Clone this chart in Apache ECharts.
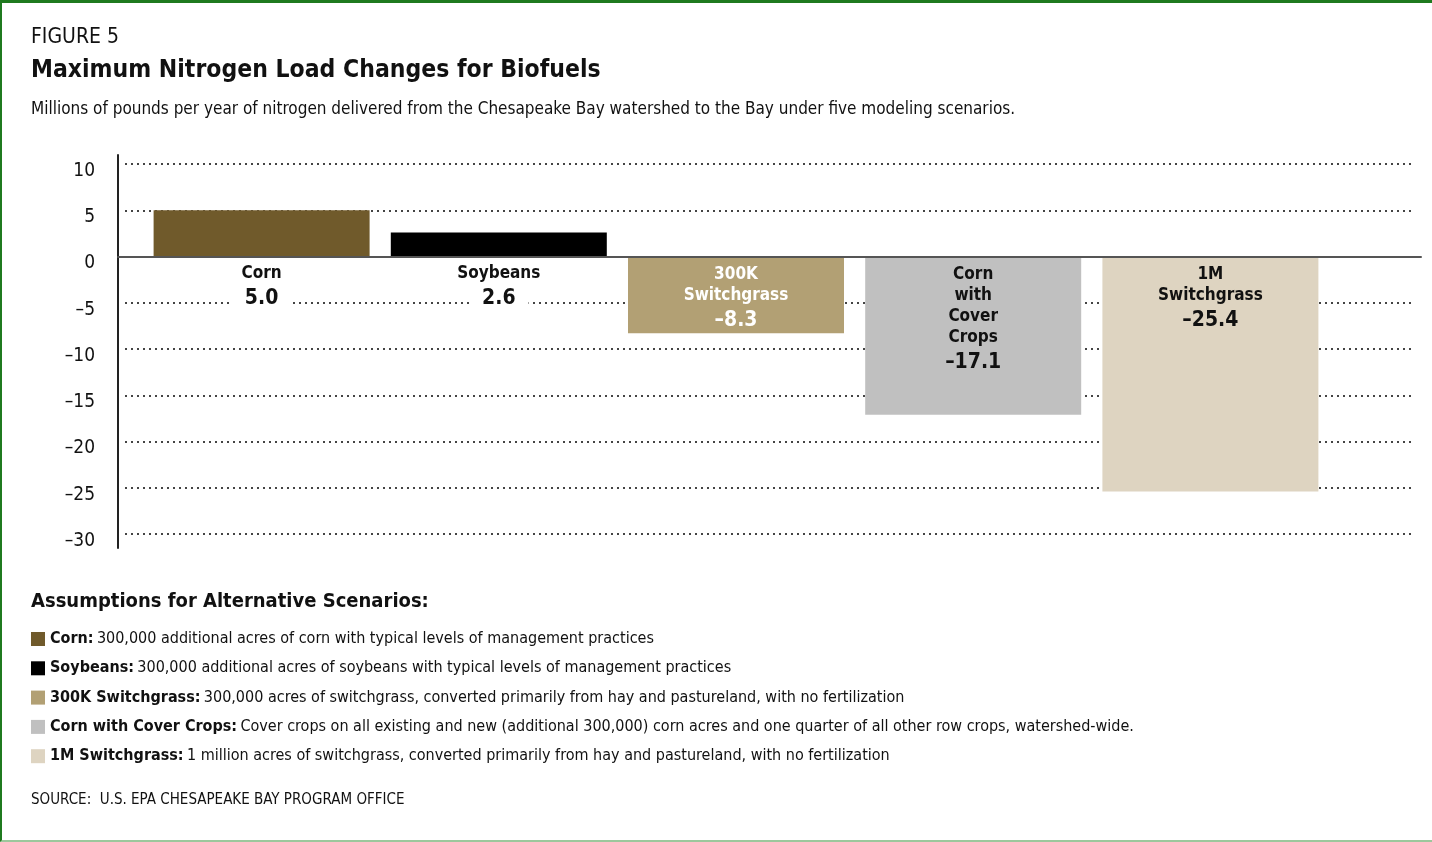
<!DOCTYPE html>
<html>
<head>
<meta charset="utf-8">
<title>Maximum Nitrogen Load Changes for Biofuels</title>
<script src="https://cdn.jsdelivr.net/npm/echarts/dist/echarts.min.js"></script>
<style>
  html, body { margin: 0; padding: 0; background: #fff; }
  #wrap { position: relative; width: 1432px; height: 842px; overflow: hidden; }
  #chart { position: absolute; left: 0; top: 0; width: 1432px; height: 842px; }
  #frame {
    position: absolute; left: 0; top: 0; width: 1432px; height: 842px;
    box-sizing: border-box; pointer-events: none;
    border-top: 3px solid #1f7a1f; border-left: 2px solid #1f7a1f;
    border-bottom: 2px solid #9cc79c;
  }
</style>
</head>
<body>
<div id="wrap">
  <div id="chart"></div>
  <div id="frame"></div>
</div>
<script>
// Scenario data (millions of pounds of nitrogen per year)
const scenarios = ['Corn', 'Soybeans', '300K Switchgrass', 'Corn with Cover Crops', '1M Switchgrass'];
const loadChange = [5.0, 2.6, -8.3, -17.1, -25.4];
const barLabelLines = [
  ['Corn'],
  ['Soybeans'],
  ['300K', 'Switchgrass'],
  ['Corn', 'with', 'Cover', 'Crops'],
  ['1M', 'Switchgrass']
];
const barColors = ['#705a2b', '#000000', '#b2a074', '#c0c0c0', '#ded4c1'];
const labelColors = ['#111', '#111', '#ffffff', '#111', '#111'];
const descriptions = [
  '300,000 additional acres of corn with typical levels of management practices',
  '300,000 additional acres of soybeans with typical levels of management practices',
  '300,000 acres of switchgrass, converted primarily from hay and pastureland, with no fertilization',
  'Cover crops on all existing and new (additional 300,000) corn acres and one quarter of all other row crops, watershed-wide.',
  '1 million acres of switchgrass, converted primarily from hay and pastureland, with no fertilization'
];
const yMin = -30, yMax = 10, yStep = 5;

const FONT = "'Liberation Sans Narrow', 'DejaVu Sans Condensed', 'Arial Narrow', sans-serif";
const INK = '#111';

function fmtValue(v) {
  return (v < 0 ? '\u2013' : '') + Math.abs(v).toFixed(1);
}

const chart = echarts.init(document.getElementById('chart'), null, { renderer: 'canvas' });

const series = scenarios.map((name, i) => {
  const v = loadChange[i];
  const positive = v >= 0;
  return {
    name: name,
    type: 'bar',
    stack: 'scenario',
    xAxisIndex: 2,
    yAxisIndex: 2,
    barWidth: 216,
    itemStyle: { color: barColors[i] },
    data: scenarios.map((_, j) => (j === i ? v : '-')),
    label: {
      show: true,
      position: positive ? 'bottom' : 'insideTop',
      distance: positive ? 7 : 8,
      formatter: () => barLabelLines[i].map(t => '{n|' + t + '}').join('\n') + '\n{v|' + fmtValue(v) + '}',
      rich: {
        n: { fontFamily: FONT, fontWeight: 'bold', fontSize: 17, lineHeight: 21, color: labelColors[i], align: 'center' },
        v: {
          fontFamily: FONT, fontWeight: 'bold', fontSize: 21, lineHeight: 28, color: labelColors[i], align: 'center',
          backgroundColor: positive ? '#fff' : 'transparent', padding: positive ? [0, 13] : 0
        }
      }
    },
    emphasis: { disabled: true }
  };
});

const option = {
  animation: false,
  backgroundColor: '#fff',
  title: [
    { text: 'FIGURE 5', left: 26, top: 22,
      textStyle: { fontFamily: FONT, fontWeight: 'normal', fontSize: 21, color: INK } },
    { text: 'Maximum Nitrogen Load Changes for Biofuels', left: 26, top: 53,
      textStyle: { fontFamily: FONT, fontWeight: 'bold', fontSize: 24.5, color: INK } },
    { text: 'Millions of pounds per year of nitrogen delivered from the Chesapeake Bay watershed to the Bay under five modeling scenarios.',
      left: 26, top: 96,
      textStyle: { fontFamily: FONT, fontWeight: 'normal', fontSize: 17, color: INK } },
    { text: 'Assumptions for Alternative Scenarios:', left: 26, top: 587,
      textStyle: { fontFamily: FONT, fontWeight: 'bold', fontSize: 20, color: INK } },
    { text: 'SOURCE:  U.S. EPA CHESAPEAKE BAY PROGRAM OFFICE', left: 26, top: 788,
      textStyle: { fontFamily: FONT, fontWeight: 'normal', fontSize: 15, color: INK } }
  ],
  legend: {
    data: scenarios,
    orient: 'vertical',
    left: 31,
    top: 631,
    padding: 0,
    icon: 'rect',
    itemWidth: 14,
    itemHeight: 14,
    itemGap: 13.3,
    selectedMode: false,
    formatter: name => '{b|' + name + ':} {d|' + descriptions[scenarios.indexOf(name)] + '}',
    textStyle: {
      rich: {
        b: { fontFamily: FONT, fontWeight: 'bold', fontSize: 16, lineHeight: 18, color: INK },
        d: { fontFamily: FONT, fontWeight: 'normal', fontSize: 16, lineHeight: 18, color: INK }
      }
    }
  },
  grid: [
    // frame: vertical axis line and the zero baseline
    { left: 118, right: 11, top: 155, bottom: 294, containLabel: false },
    // dotted reference lines and tick labels
    { left: 125, right: 17, top: 164, bottom: 308, containLabel: false },
    // bars
    { left: 143, right: 103, top: 164, bottom: 308, containLabel: false }
  ],
  xAxis: [
    { gridIndex: 0, type: 'value', min: 0, max: 1, z: 10,
      axisLine: { show: true, onZero: true, lineStyle: { color: '#555', width: 2 } },
      axisTick: { show: false }, axisLabel: { show: false }, splitLine: { show: false } },
    { gridIndex: 1, type: 'value', min: 0, max: 1, show: false },
    { gridIndex: 2, type: 'category', data: scenarios, show: false }
  ],
  yAxis: [
    { gridIndex: 0, type: 'value', min: yMin - 1.5, max: yMax + 1,
      axisLine: { show: true, onZero: false, lineStyle: { color: '#222', width: 2 } },
      axisTick: { show: false }, axisLabel: { show: false }, splitLine: { show: false } },
    { gridIndex: 1, type: 'value', min: yMin, max: yMax, interval: yStep,
      axisLine: { show: false }, axisTick: { show: false },
      axisLabel: {
        show: true, margin: 30, verticalAlign: 'top', lineHeight: 14,
        fontFamily: FONT, fontSize: 19, color: INK,
        formatter: v => (v < 0 ? '\u2013' + Math.abs(v) : String(v))
      },
      splitLine: { show: true, lineStyle: { color: '#444', width: 2, type: [2, 4] } } },
    { gridIndex: 2, type: 'value', min: yMin, max: yMax, show: false }
  ],
  series: series
};

chart.setOption(option);
</script>
</body>
</html>
